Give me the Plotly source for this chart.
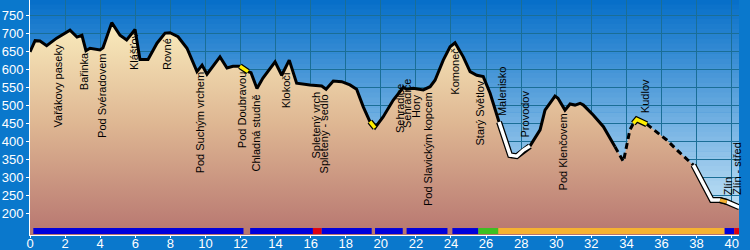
import plotly.graph_objects as go

# ---------------- data ----------------
km = [0, 0.29, 0.57, 0.95, 1.52, 2.28, 2.68, 2.96, 3.19, 3.42, 3.99, 4.16, 4.66, 5.13, 5.51,
      5.99, 6.27, 6.73, 7.24, 7.70, 7.98, 8.44, 8.95, 9.24, 9.52, 9.81, 10.09, 10.83, 11.23,
      11.57, 11.97, 12.43, 12.6, 12.94, 13.28, 13.97, 14.35, 14.78, 15.2, 15.96, 16.63, 16.88,
      17.29, 17.77, 18.24, 18.62, 19.0, 19.38, 19.67, 20.13, 20.71, 21.28, 21.47, 21.85, 22.42,
      22.81, 23.09, 23.56, 23.95, 24.23, 24.7, 25.09, 25.47, 25.84, 26.23, 26.74, 27.37, 27.75,
      28.13, 28.5, 29.08, 29.36, 29.93, 30.1, 30.5, 30.79, 31.07, 31.36, 31.55, 32.12, 32.69,
      33.35, 33.83, 34.2, 34.4, 34.59, 35.16, 35.35, 36.3, 37.06, 37.82, 38.87, 39.34, 39.72,
      40.44]
elev = [648, 679, 678, 665, 686, 708, 689, 694, 651, 658, 653, 659, 729, 694, 681,
        710, 627, 627, 672, 700, 701, 690, 658, 625, 593, 611, 586, 634, 603,
        608, 608, 593, 590, 546, 575, 620, 583, 625, 561, 556, 553, 544,
        567, 565, 556, 544, 495, 454, 437, 467, 514, 549, 544, 547, 542,
        551, 569, 625, 662, 673, 634, 593, 583, 579, 533, 453, 361, 358,
        375, 386, 431, 486, 525, 519, 486, 503, 500, 505, 500, 472, 440,
        384, 343, 431, 449, 460, 447, 440, 403, 367, 333, 236, 236, 231,
        216]

label_names = ["Vařákovy paseky", "Bařinka", "Pod Svéradovem", "Klášťov", "Rovné",
               "Pod Suchým vrchem", "Pod Doubravou", "Chladná studně", "Klokočí",
               "Spletený vrch", "Spletený - sedlo", "Sehradice", "Sehradice", "Hory",
               "Pod Slavickým kopcem", "Komoneč", "Starý Světlov", "Malenisko", "Provodov",
               "Pod Klenčovem", "Kudlov", "Zlín", "Zlín - střed"]
label_km = [1.60, 3.08, 4.10, 5.93, 7.81, 9.69, 12.09, 12.88, 14.6, 16.3, 16.76, 21.1, 21.5,
            22.0, 22.69, 24.23, 25.66, 26.91, 28.22, 30.39, 35.06, 39.8, 40.31]
label_elev = [431, 536, 403, 592, 592, 306, 375, 311, 486, 347, 306, 417, 431, 458, 214,
              522, 381, 464, 403, 256, 472, 244, 244]

bar_start = [0.19, 12.55, 16.13, 16.63, 19.67, 21.47, 24.08, 25.56, 26.7, 39.6, 40.15]
bar_end = [12.17, 16.13, 16.63, 19.48, 21.25, 23.8, 25.56, 26.7, 39.6, 40.15, 40.45]
bar_kind = ["blue", "blue", "red", "blue", "blue", "blue", "blue", "green", "orange", "blue", "red"]
bar_level = 150

solid_ranges = [(0, 26.74), (28.5, 33.35)]
dashed_ranges = [(33.35, 34.4), (35.16, 37.82)]
white_ranges = [(26.74, 28.5), (37.82, 40.44)]
yellow_ranges = [(11.97, 12.43), (19.38, 19.67), (34.4, 35.16)]
orange_ranges = [(39.34, 39.72)]

# ---------------- styles ----------------
BAR_COLORS = {"blue": "#0000dc", "red": "#e00010", "green": "#3cc020", "orange": "#f5b232"}
PAPER = "#0a78cc"
FONT = "Liberation Sans, Arial, sans-serif"


def seg(a, b):
    xs, ys = [], []
    for k, e in zip(km, elev):
        if a - 1e-9 <= k <= b + 1e-9:
            xs.append(k)
            ys.append(e)
    return xs, ys


fig = go.Figure()

# terrain fill
fig.add_trace(go.Scatter(
    x=km, y=elev, mode="none", fill="tozeroy",
    fillgradient=dict(type="vertical", start=140, stop=750,
                      colorscale=[[0, "rgb(183,118,112)"], [0.5, "rgb(222,182,146)"],
                                  [1, "rgb(252,240,192)"]]),
    hoverinfo="skip", showlegend=False))

for a, b in solid_ranges:
    xs, ys = seg(a, b)
    fig.add_trace(go.Scatter(x=xs, y=ys, mode="lines", line=dict(color="black", width=3),
                             showlegend=False, hoverinfo="skip"))
for a, b in dashed_ranges:
    xs, ys = seg(a, b)
    fig.add_trace(go.Scatter(x=xs, y=ys, mode="lines",
                             line=dict(color="black", width=3, dash="6px,4px"),
                             showlegend=False, hoverinfo="skip"))
for rngs, col in ((white_ranges, "white"), (yellow_ranges, "#ffee00"), (orange_ranges, "#f5b232")):
    for a, b in rngs:
        xs, ys = seg(a, b)
        fig.add_trace(go.Scatter(x=xs, y=ys, mode="lines", line=dict(color="black", width=6),
                                 showlegend=False, hoverinfo="skip"))
        fig.add_trace(go.Scatter(x=xs, y=ys, mode="lines", line=dict(color=col, width=3.5),
                                 showlegend=False, hoverinfo="skip"))

# bottom bar
for s, e, k in zip(bar_start, bar_end, bar_kind):
    fig.add_trace(go.Scatter(x=[s, e], y=[bar_level, bar_level], mode="lines",
                             line=dict(color=BAR_COLORS[k], width=6),
                             showlegend=False, hoverinfo="skip"))

# background gradient bands (plot area)
shapes = []
n = 48
top = (5, 110, 200)
bot = (215, 238, 250)
for i in range(n):
    t = (i + 0.5) / n
    c = tuple(int(round(top[j] + (bot[j] - top[j]) * t)) for j in range(3))
    shapes.append(dict(type="rect", xref="paper", yref="paper", x0=0, x1=1,
                       y0=1 - (i + 1) / n, y1=1 - i / n + 0.002, layer="below",
                       line=dict(width=0), fillcolor="rgb(%d,%d,%d)" % c))

annotations = []
for name, k, e in zip(label_names, label_km, label_elev):
    annotations.append(dict(x=k, y=e, text=name, textangle=-90, showarrow=False,
                            xanchor="center", yanchor="bottom",
                            font=dict(family=FONT, size=11, color="black")))

fig.update_layout(
    width=750, height=250,
    margin=dict(l=30, r=11, t=0, b=15),
    paper_bgcolor=PAPER, plot_bgcolor=PAPER,
    shapes=shapes, annotations=annotations,
    font=dict(family=FONT, color="white", size=13),
    xaxis=dict(range=[0, 40.42], tickvals=list(range(0, 41, 2)), showgrid=True,
               gridcolor="#1a6e96", gridwidth=1, zeroline=False, showline=True,
               linecolor="white", linewidth=1, ticks="outside", ticklen=2,
               ticklabelstandoff=-6,
               tickcolor="white", tickfont=dict(color="white", size=13, family=FONT),
               automargin=False, fixedrange=True),
    yaxis=dict(range=[139, 792], tickvals=list(range(200, 751, 50)), showgrid=True,
               gridcolor="#1a6e96", gridwidth=1, zeroline=False, showline=True,
               linecolor="white", linewidth=1, ticks="outside", ticklen=3,
               tickcolor="white", tickfont=dict(color="white", size=13, family=FONT),
               automargin=False, fixedrange=True),
)

fig.write_html("out.html")
